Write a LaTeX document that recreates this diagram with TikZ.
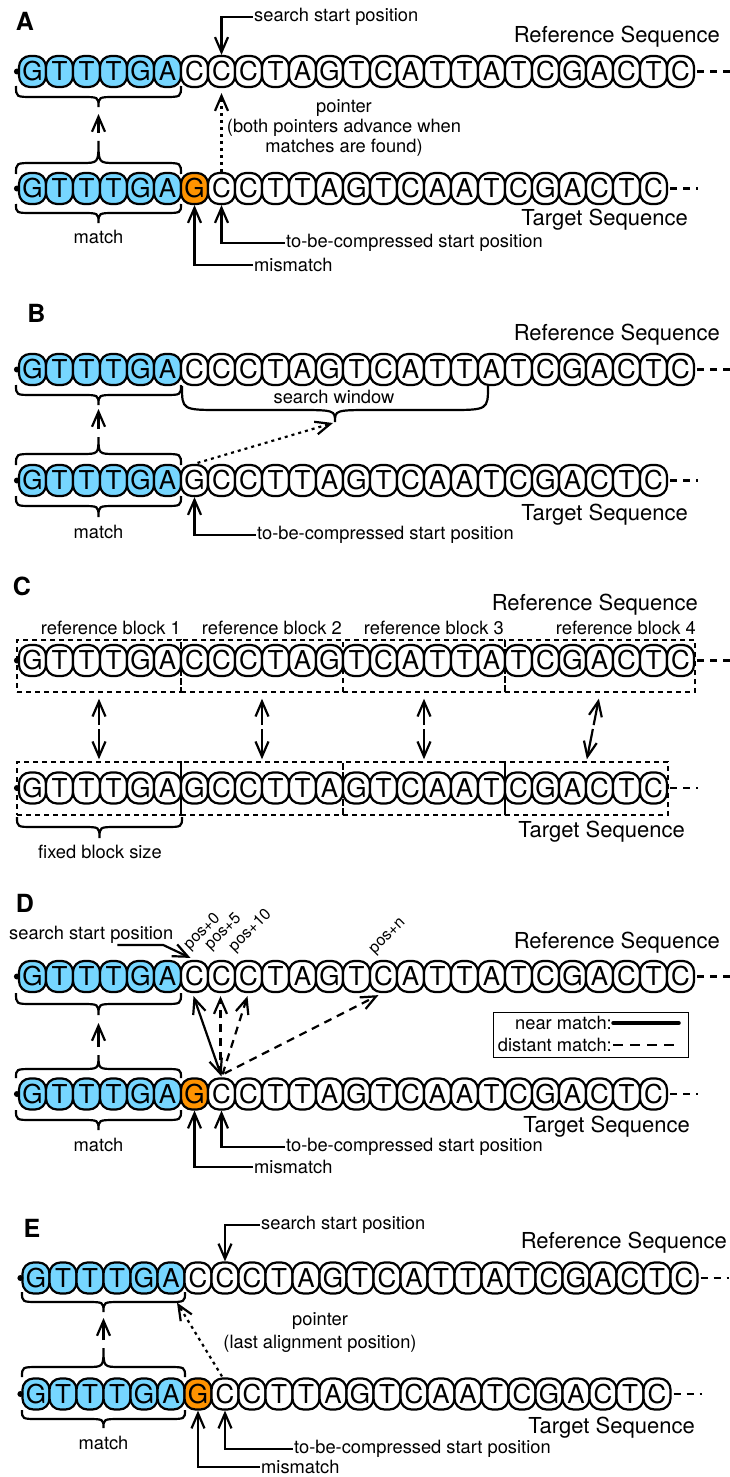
\documentclass[tikz,border=0pt]{standalone}
\usepackage{fontspec}
\setmainfont{TeX Gyre Heros}
\usetikzlibrary{arrows.meta,calc}
\definecolor{sky}{RGB}{118,214,255}
\definecolor{tangerine}{RGB}{255,147,0}

\tikzset{
  basecell/.style={draw, line width=2.2pt, rounded corners=11pt, minimum width=27pt,
    minimum height=31pt, inner sep=0pt, fill=white, font=\fontsize{26}{26}\selectfont},
  cellfill/.code={\ifnum#1<\nsky\relax\pgfkeysalso{fill=sky}\else
    \ifnum#1=\norange\relax\pgfkeysalso{fill=tangerine}\fi\fi},
  lbl/.style={font=\fontsize{18.3}{20}\selectfont, inner sep=1pt},
  seqlbl/.style={font=\fontsize{22}{24}\selectfont, inner sep=0pt},
  panel/.style={font=\fontsize{25}{25}\selectfont\bfseries, inner sep=0pt},
  poslbl/.style={font=\fontsize{16}{16}\selectfont, inner sep=0pt, rotate=45, anchor=south west},
  tipV/.tip={Straight Barb[length=15pt,width=13pt]},
  arr/.style={line width=2.2pt, -tipV},
  dotarr/.style={arr, dash pattern=on 3pt off 4pt},
  dasharr/.style={arr, dash pattern=on 8pt off 6pt},
  brc/.style={line width=2.2pt},
  tail/.style={line width=2.2pt, dash pattern=on 7pt off 6pt},
  dbox/.style={draw, line width=1.5pt, dash pattern=on 5pt off 4pt, inner sep=0pt},
}

% a row of nucleotide cells: name, left x, centre y, number of sky cells, orange index, letters
\newcommand\seqrow[6]{%
  \def\nsky{#4}\def\norange{#5}%
  \foreach \c [count=\i from 0] in {#6} {
    \node[basecell, cellfill=\i] (#1\i) at ({#2+27*\i+13.5},#3) {\c};
  }
}
% start dot and continuation dashes of a row: name, last index, dash length
\newcommand\rowends[3]{%
  \fill ($(#10.west)+(-1,0)$) circle (3);
  \draw[tail] ($(#1#2.east)+(2,0)$) -- ++(#3,0);
}
% horizontal curly brace: x1, x2, end y, depth to arms, arms to tip, curve run
\newcommand\hbr[6]{%
  \pgfmathsetmacro\bxm{(#1+#2)/2}
  \draw[brc] (#1,#3) .. controls (#1,{(#3)+(#4)}) .. ({#1+#6},{(#3)+(#4)})
    -- ({\bxm-#6},{(#3)+(#4)}) .. controls (\bxm,{(#3)+(#4)}) .. (\bxm,{(#3)+(#4)+(#5)})
    .. controls (\bxm,{(#3)+(#4)}) .. ({\bxm+#6},{(#3)+(#4)})
    -- ({#2-#6},{(#3)+(#4)}) .. controls (#2,{(#3)+(#4)}) .. (#2,#3);
}

\begin{document}
\begin{tikzpicture}[x=1pt,y=-1pt]
\useasboundingbox (0,0) rectangle (729,1477);
\fill[white] (0,0) rectangle (729,1477);

% ---------------- A ----------------
\node[panel] (labA) at (25,21) {A};
\seqrow{rA}{19}{71.5}{6}{-1}{G,T,T,T,G,A,C,C,C,T,A,G,T,C,A,T,T,A,T,C,G,A,C,T,C}
\seqrow{tA}{19}{188.5}{6}{6}{G,T,T,T,G,A,G,C,C,T,T,A,G,T,C,A,A,T,C,G,A,C,T,C}
\rowends{rA}{24}{33}
\rowends{tA}{23}{28}
\node[seqlbl, anchor=east] (refA) at (720,37) {Reference Sequence};
\node[seqlbl, anchor=east] (tgtA) at (688,220) {Target Sequence};
\node[lbl, anchor=west] (ssA) at (253,17) {search start position};
\draw[arr] (ssA.west) -| (rA7.north);
\draw[dotarr] (tA7.north) -- ($(rA7.south)+(0,5)$);
\node[lbl, align=center] (ptA) at (344,128) {pointer\\(both pointers advance when\\matches are found)};
\hbr{16}{181}{86}{11}{10}{17}
\hbr{16}{181}{174}{-11}{-22}{17}
\coordinate (bA1) at (98.5,107);
\coordinate (bA2) at (98.5,141);
\draw[arr] ($(bA2)+(0,-8)$) -- ($(bA1)+(0,7)$);
\hbr{16}{181}{204}{9}{10}{17}
\node[lbl] (mA) at (98.5,237) {match};
\node[lbl, anchor=west] (mmA) at (253,265) {mismatch};
\draw[arr] (mmA.west) -| (tA6.south);
\node[lbl, anchor=west] (tbA) at (285,243) {to-be-compressed start position};
\draw[arr] (tbA.west) -| (tA7.south);

% ---------------- B ----------------
\node[panel] (labB) at (36.5,313.5) {B};
\seqrow{rB}{19}{369.5}{6}{-1}{G,T,T,T,G,A,C,C,C,T,A,G,T,C,A,T,T,A,T,C,G,A,C,T,C}
\seqrow{tB}{19}{480.5}{6}{-1}{G,T,T,T,G,A,G,C,C,T,T,A,G,T,C,A,A,T,C,G,A,C,T,C}
\rowends{rB}{24}{33}
\rowends{tB}{23}{28}
\node[seqlbl, anchor=east] (refB) at (720,335) {Reference Sequence};
\node[seqlbl, anchor=east] (tgtB) at (688,515) {Target Sequence};
\hbr{16}{181}{385}{10}{10}{17}
\hbr{16}{181}{465}{-11}{-17}{17}
\coordinate (bB1) at (98.5,405);
\coordinate (bB2) at (98.5,437);
\draw[arr] ($(bB2)+(0,-8)$) -- ($(bB1)+(0,4)$);
\hbr{16}{181}{496}{10}{11}{17}
\node[lbl] (mB) at (98.5,532) {match};
\hbr{182}{488}{386}{24}{12}{40}
\coordinate (bBw) at (335,422);
\node[lbl] (swB) at (334,397) {search window};
\draw[dotarr] ($(tB6.north)+(3,-1)$) -- ($(bBw)+(-2,1)$);
\node[lbl, anchor=west] (tbB) at (256,535) {to-be-compressed start position};
\draw[arr] (tbB.west) -| (tB6.south);

% ---------------- C ----------------
\node[panel] (labC) at (22,586) {C};
\seqrow{rC}{19}{660.5}{0}{-1}{G,T,T,T,G,A,C,C,C,T,A,G,T,C,A,T,T,A,T,C,G,A,C,T,C}
\seqrow{tC}{19}{788}{0}{-1}{G,T,T,T,G,A,G,C,C,T,T,A,G,T,C,A,A,T,C,G,A,C,T,C}
\rowends{rC}{24}{33}
\rowends{tC}{23}{28}
\node[seqlbl, anchor=east] (refC) at (698,605) {Reference Sequence};
\node[seqlbl, anchor=east] (tgtC) at (685,832) {Target Sequence};
\node[dbox, minimum width=164, minimum height=52] (rb1) at (99,666) {};
\node[dbox, minimum width=162, minimum height=52] (rb2) at (262,666) {};
\node[dbox, minimum width=162, minimum height=52] (rb3) at (424,666) {};
\node[dbox, minimum width=190, minimum height=52] (rb4) at (600,666) {};
\node[dbox, minimum width=164, minimum height=53] (tb1) at (99,788.5) {};
\node[dbox, minimum width=162, minimum height=53] (tb2) at (262,788.5) {};
\node[dbox, minimum width=162, minimum height=53] (tb3) at (424,788.5) {};
\node[dbox, minimum width=163, minimum height=53] (tb4) at (586.5,788.5) {};
\node[lbl, anchor=base east] (lb1) at (182,634.5) {reference block 1};
\node[lbl, anchor=base east] (lb2) at (343,634.5) {reference block 2};
\node[lbl, anchor=base east] (lb3) at (505,634.5) {reference block 3};
\node[lbl, anchor=base east] (lb4) at (697,634.5) {reference block 4};
\foreach \k in {1,...,4} {
  \coordinate (m\k) at ($(rb\k.south)!0.5!(tb\k.north)$);
  \draw[arr] ($(m\k)!2pt!(rb\k.south)$) -- ($(rb\k.south)!6pt!(m\k)$);
  \draw[arr] ($(m\k)!2pt!(tb\k.north)$) -- ($(tb\k.north)!2pt!(m\k)$);
}
\hbr{17}{182}{817}{10}{11}{17}
\node[lbl] (fbC) at (100,852) {fixed block size};

% ---------------- D ----------------
\node[panel] (labD) at (25,903) {D};
\seqrow{rD}{19}{976.5}{6}{-1}{G,T,T,T,G,A,C,C,C,T,A,G,T,C,A,T,T,A,T,C,G,A,C,T,C}
\seqrow{tD}{19}{1094}{6}{6}{G,T,T,T,G,A,G,C,C,T,T,A,G,T,C,A,A,T,C,G,A,C,T,C}
\rowends{rD}{24}{33}
\rowends{tD}{23}{28}
\node[seqlbl, anchor=east] (refD) at (720,943) {Reference Sequence};
\node[seqlbl, anchor=east] (tgtD) at (690,1127) {Target Sequence};
\node[lbl, anchor=west] (ssD) at (8,935) {search start position};
\draw[arr] ($(ssD.center)+(26,10)$) -- ++(46,0) -- ($(rD6.north)+(-4,-2)$);
\node[poslbl] (p0) at (192,953) {pos+0};
\node[poslbl] (p5) at (213,953) {pos+5};
\node[poslbl] (p10) at (237,955) {pos+10};
\node[poslbl] (pn) at (377,957) {pos+n};
\draw[line width=2.2pt, tipV-tipV] ($(tD7.north)+(0,-1)$) -- ($(rD6.south)+(-1,3)$);
\draw[dasharr] ($(tD7.north)+(-1,-3)$) -- ($(rD7.south)+(-1,3)$);
\draw[dasharr] ($(tD7.north)+(1,-3)$) -- ($(rD8.south)+(-1,3)$);
\draw[dasharr] ($(tD7.north)+(3,-4)$) -- ($(rD13.south)+(-5,2)$);
\node[draw, line width=1.3pt, minimum width=195, minimum height=45, anchor=north west, inner sep=0pt] (lg) at (493,1012) {};
\node[lbl, anchor=east] (nm) at (613,1023) {near match:};
\draw[line width=3.5pt, line cap=round] (nm.east) -- ++(66,0);
\node[lbl, anchor=east] (dm) at (613,1045) {distant match:};
\draw[line width=2pt, dash pattern=on 10pt off 7pt] (dm.east) -- ++(66,0);
\hbr{16}{181}{993}{11}{11}{17}
\hbr{16}{181}{1078}{-9}{-14}{17}
\coordinate (bD1) at (98.5,1015);
\coordinate (bD2) at (98.5,1055);
\draw[arr] ($(bD2)+(0,-8)$) -- ($(bD1)+(0,8)$);
\hbr{16}{181}{1110}{10}{10}{17}
\node[lbl] (mD) at (98.5,1145) {match};
\node[lbl, anchor=west] (mmD) at (253,1167) {mismatch};
\draw[arr] (mmD.west) -| (tD6.south);
\node[lbl, anchor=west] (tbD) at (285,1147) {to-be-compressed start position};
\draw[arr] (tbD.west) -| (tD7.south);

% ---------------- E ----------------
\node[panel] (labE) at (32,1228) {E};
\seqrow{rE}{22.5}{1278}{6}{-1}{G,T,T,T,G,A,C,C,C,T,A,G,T,C,A,T,T,A,T,C,G,A,C,T,C}
\seqrow{tE}{22.5}{1394}{6}{6}{G,T,T,T,G,A,G,C,C,T,T,A,G,T,C,A,A,T,C,G,A,C,T,C}
\rowends{rE}{24}{28}
\rowends{tE}{23}{28}
\node[seqlbl, anchor=east] (refE) at (727,1243) {Reference Sequence};
\node[seqlbl, anchor=east] (tgtE) at (695,1428) {Target Sequence};
\node[lbl, anchor=west] (ssE) at (260,1225) {search start position};
\draw[arr] (ssE.west) -| (rE7.north);
\hbr{22}{185}{1292}{10}{10}{17}
\hbr{22}{185}{1377}{-10}{-19}{17}
\coordinate (bE1) at (103.5,1312);
\coordinate (bE2) at (103.5,1348);
\draw[arr] ($(bE2)+(0,-8)$) -- ($(bE1)+(0,6)$);
\hbr{22}{185}{1410}{9}{9}{17}
\node[lbl] (mE) at (103.5,1443) {match};
\draw[dotarr] ($(tE7.north)+(-3,-1)$) -- ($(rE5.south)+(6,8)$);
\node[lbl, align=center, font=\fontsize{18.3}{23}\selectfont] (ptE) at (320,1333) {pointer\\(last alignment position)};
\node[lbl, anchor=west] (mmE) at (260,1467) {mismatch};
\draw[arr] (mmE.west) -| (tE6.south);
\node[lbl, anchor=west] (tbE) at (293,1449) {to-be-compressed start position};
\draw[arr] (tbE.west) -| (tE7.south);
\end{tikzpicture}
\end{document}
